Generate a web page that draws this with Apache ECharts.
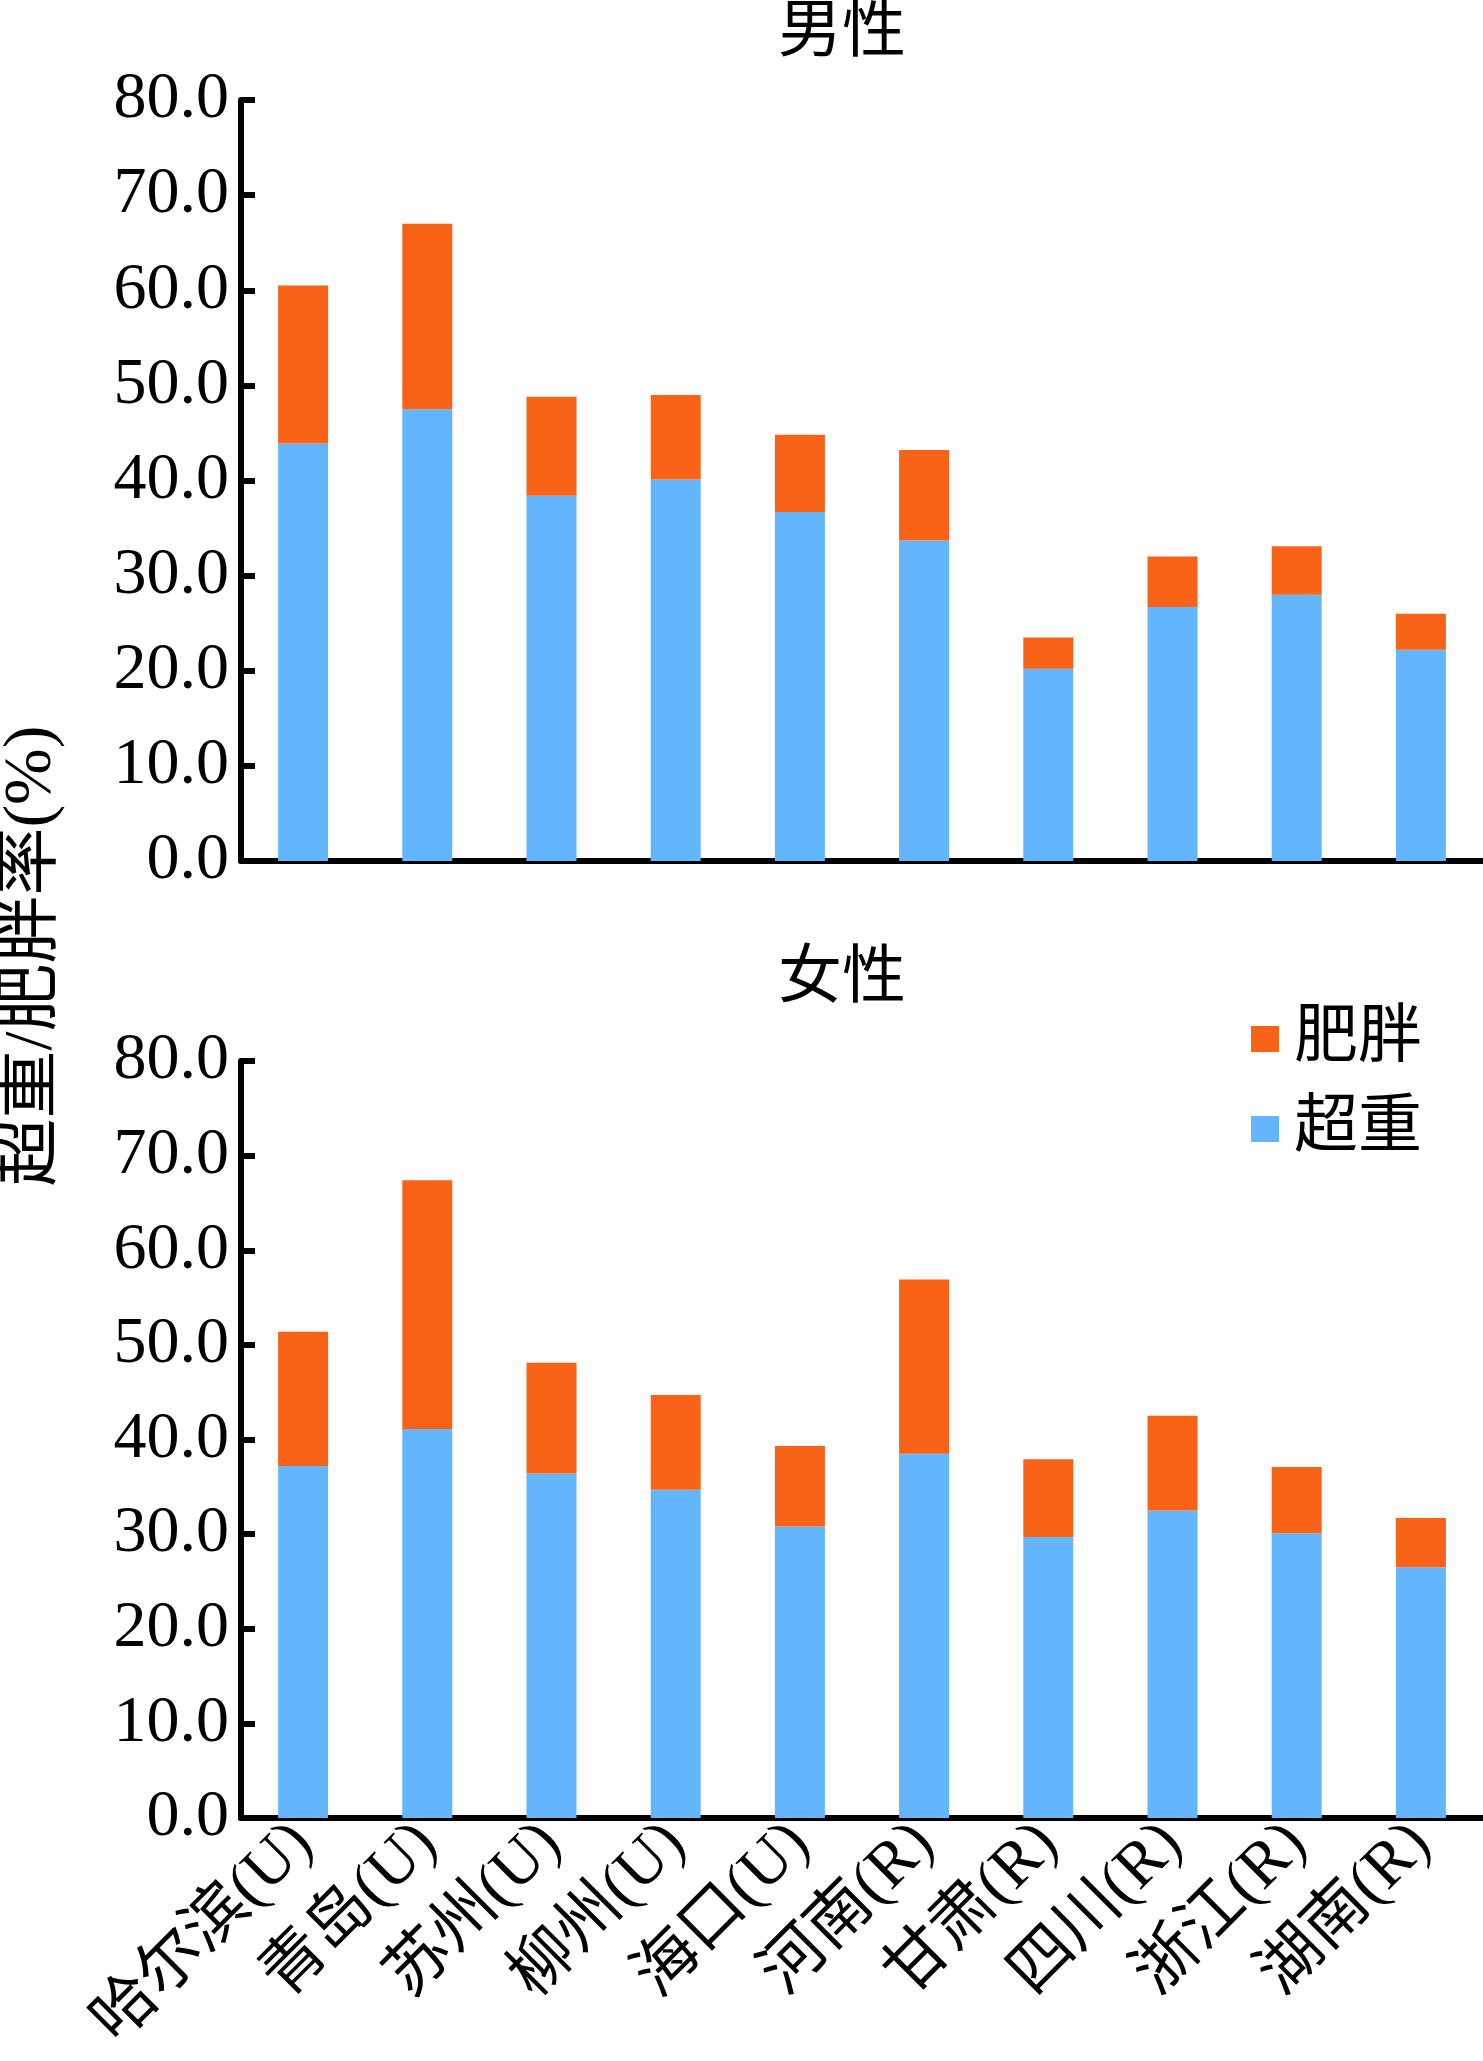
<!DOCTYPE html>
<html>
<head>
<meta charset="utf-8">
<script src="https://cdn.jsdelivr.net/npm/echarts@6/dist/echarts.min.js"></script>
<style>
  html, body { margin: 0; padding: 0; background: #fff; }
  #main { width: 1483px; height: 2061px; }
</style>
</head>
<body>
<div id="main"></div>
<script>
var myChart = echarts.init(document.getElementById('main'), null, {renderer: 'canvas'});

// data
var cities = ['哈尔滨(U)', '青岛(U)', '苏州(U)', '柳州(U)', '海口(U)',
              '河南(R)', '甘肃(R)', '四川(R)', '浙江(R)', '湖南(R)'];
var maleOverweight = [43.9, 47.5, 38.4, 40.1, 36.7, 33.7, 20.2, 26.7, 28.0, 22.2];
var maleObese      = [16.6, 19.5, 10.4,  8.9,  8.1,  9.5,  3.3,  5.3,  5.1,  3.8];
var femaleOverweight = [37.2, 41.1, 36.4, 34.7, 30.8, 38.5, 29.7, 32.5, 30.1, 26.5];
var femaleObese      = [14.2, 26.3, 11.7, 10.0,  8.5, 18.4,  8.2, 10.0,  7.0,  5.2];

var blue = '#63b5fc';
var orange = '#f86318';
var fontFam = '"Liberation Serif", "Noto Sans CJK SC", serif';

function makeYAxis(idx) {
    return {
        gridIndex: idx,
        type: 'value',
        min: 0,
        max: 80,
        interval: 10,
        axisLine: {show: true, lineStyle: {color: '#000', width: 6}},
        axisTick: {show: true, inside: true, length: 14, lineStyle: {color: '#000', width: 6}},
        splitLine: {show: false},
        axisLabel: {
            color: '#000',
            fontSize: 66,
            fontFamily: fontFam,
            margin: 12,
            formatter: function (v) { return v.toFixed(1); }
        }
    };
}

function makeXAxis(idx, showLabel) {
    return {
        gridIndex: idx,
        type: 'category',
        data: cities,
        axisLine: {show: true, lineStyle: {color: '#000', width: 6}},
        axisTick: {show: false},
        axisLabel: {
            show: showLabel,
            color: '#000',
            fontSize: 64,
            fontFamily: fontFam,
            rotate: 45,
            interval: 0,
            margin: 16
        }
    };
}

var option = {
    backgroundColor: '#fff',
    animation: false,
    textStyle: {fontFamily: fontFam},
    grid: [
        {left: 241, right: 0, top: 100, bottom: 1200},
        {left: 241, right: 0, top: 1061, bottom: 243}
    ],
    legend: {
        orient: 'vertical',
        left: 1246,
        top: 1002,
        itemWidth: 28,
        itemHeight: 26,
        itemGap: 26,
        icon: 'rect',
        textStyle: {color: '#000', fontSize: 64, fontFamily: fontFam, padding: [0, 0, 0, 10]},
        data: ['肥胖', '超重']
    },
    graphic: [
        {
            type: 'text', x: 842, y: 2,
            style: {text: '男性', fontSize: 64, fontFamily: fontFam, fill: '#000', align: 'center'}
        },
        {
            type: 'text', x: 842, y: 948,
            style: {text: '女性', fontSize: 64, fontFamily: fontFam, fill: '#000', align: 'center'}
        },
        {
            type: 'text', x: 32, y: 956, rotation: Math.PI / 2,
            style: {text: '超重/肥胖率(%)', fontSize: 68, fontFamily: fontFam, fill: '#000',
                    align: 'center', verticalAlign: 'middle'}
        }
    ],
    xAxis: [makeXAxis(0, false), makeXAxis(1, true)],
    yAxis: [makeYAxis(0), makeYAxis(1)],
    series: [
        {name: '超重', type: 'bar', stack: 'm', xAxisIndex: 0, yAxisIndex: 0,
         barWidth: 50, itemStyle: {color: blue}, data: maleOverweight},
        {name: '肥胖', type: 'bar', stack: 'm', xAxisIndex: 0, yAxisIndex: 0,
         barWidth: 50, itemStyle: {color: orange}, data: maleObese},
        {name: '超重', type: 'bar', stack: 'f', xAxisIndex: 1, yAxisIndex: 1,
         barWidth: 50, itemStyle: {color: blue}, data: femaleOverweight},
        {name: '肥胖', type: 'bar', stack: 'f', xAxisIndex: 1, yAxisIndex: 1,
         barWidth: 50, itemStyle: {color: orange}, data: femaleObese}
    ]
};

myChart.setOption(option);
</script>
</body>
</html>
